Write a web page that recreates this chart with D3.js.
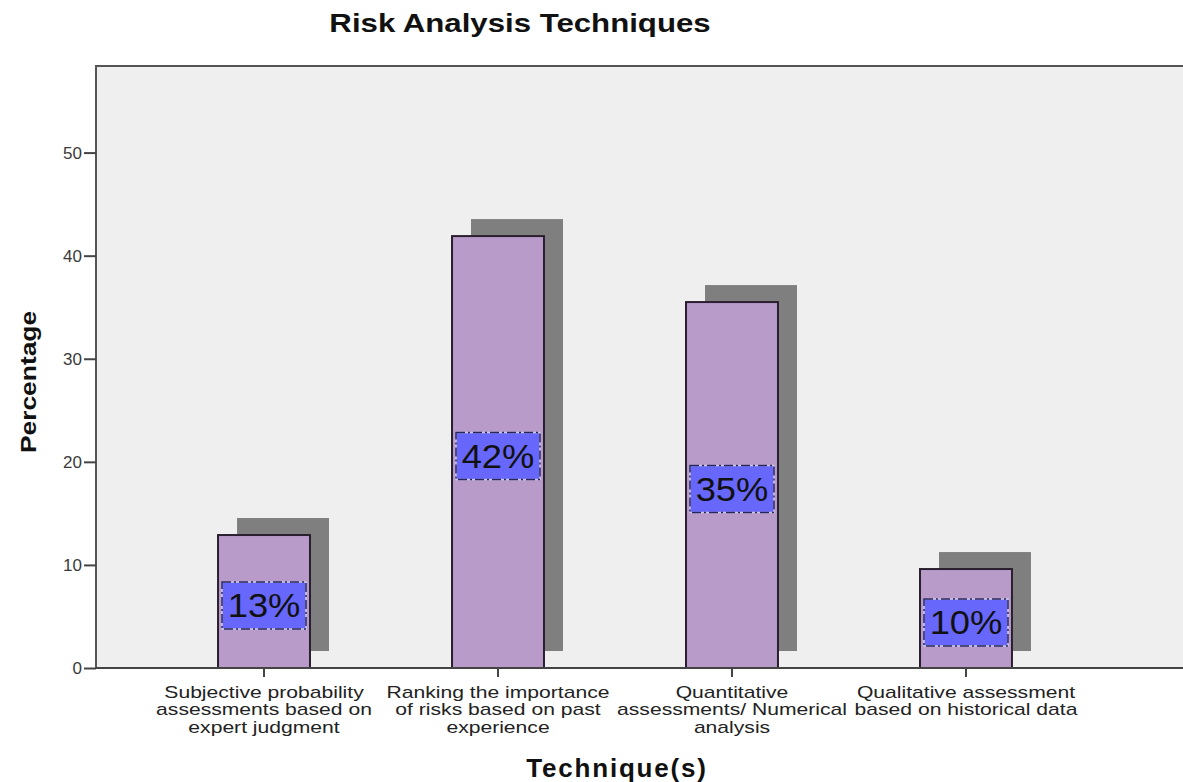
<!DOCTYPE html>
<meta charset="utf-8">
<style>
body { margin: 0; background: #fff; }
text { font-family: "Liberation Sans", Arial, sans-serif; }
.axis text { font-size: 17px; fill: #3a3a3a; }
.axis line, .axis path { stroke: #444; stroke-width: 2px; }
</style>
<body>
<svg width="1183" height="782"></svg>
<script src="https://cdnjs.cloudflare.com/ajax/libs/d3/7.8.5/d3.min.js"></script>
<script>
// data
var categories = [
  ["Subjective probability", "assessments based on", "expert judgment"],
  ["Ranking the importance", "of risks based on past", "experience"],
  ["Quantitative", "assessments/ Numerical", "analysis"],
  ["Qualitative assessment", "based on historical data"]
];
var values = [12.9, 41.9, 35.5, 9.6];
var labels = ["13%", "42%", "35%", "10%"];
var yTicks = [0, 10, 20, 30, 40, 50];

var svg = d3.select("svg"),
    plotL = 96, plotT = 66, plotB = 668, plotR = 1200;

var keys = categories.map(function(d, i) { return "c" + i; });

var x = d3.scaleBand().domain(keys).range([76, 1154]).padding(0.607);
var y = d3.scaleLinear().domain([0, 58.4]).range([plotB, plotT]);

// plot background
svg.append("rect")
    .attr("x", plotL).attr("y", plotT)
    .attr("width", plotR - plotL).attr("height", plotB - plotT)
    .attr("fill", "#efefef")
    .attr("stroke", "#555").attr("stroke-width", 2);

// shadows
svg.append("g").selectAll("rect")
    .data(values)
  .enter().append("rect")
    .attr("x", function(d, i) { return x(keys[i]) + 19; })
    .attr("y", function(d) { return y(d) - 17; })
    .attr("width", x.bandwidth())
    .attr("height", function(d) { return plotB - y(d); })
    .attr("fill", "#7f7f7f");

// bars
svg.append("g").selectAll("rect")
    .data(values)
  .enter().append("rect")
    .attr("x", function(d, i) { return x(keys[i]); })
    .attr("y", function(d) { return y(d); })
    .attr("width", x.bandwidth())
    .attr("height", function(d) { return plotB - y(d); })
    .attr("fill", "#b99bc9")
    .attr("stroke", "#2a1f2e").attr("stroke-width", 2);

// value labels
var lab = svg.append("g").selectAll("g")
    .data(values)
  .enter().append("g")
    .attr("transform", function(d, i) {
      return "translate(" + (x(keys[i]) + x.bandwidth() / 2) + "," + (y(d / 2) + 4) + ")";
    });
lab.append("rect")
    .attr("x", -42).attr("y", -23.5)
    .attr("width", 84).attr("height", 47)
    .attr("fill", "#6767fb")
    .attr("stroke", "#cfc6e6").attr("stroke-width", 1.5);
lab.append("rect")
    .attr("x", -42).attr("y", -23.5)
    .attr("width", 84).attr("height", 47)
    .attr("fill", "none")
    .attr("stroke", "#26265e").attr("stroke-width", 1.5)
    .attr("stroke-dasharray", "9,3,2,3");
lab.append("text")
    .attr("text-anchor", "middle")
    .attr("dy", "0.36em")
    .attr("transform", "scale(1.1,1)")
    .style("font-size", "33px")
    .attr("fill", "#111")
    .text(function(d, i) { return labels[i]; });

// y axis
var yAxis = svg.append("g")
    .attr("class", "axis")
    .attr("transform", "translate(" + plotL + ",0)")
    .call(d3.axisLeft(y).tickValues(yTicks).tickSize(12).tickPadding(2));
yAxis.select(".domain").remove();

// x axis
var xAxis = svg.append("g")
    .attr("class", "axis")
    .attr("transform", "translate(0," + plotB + ")")
    .call(d3.axisBottom(x).tickSize(9).tickFormat(""));
xAxis.select(".domain").remove();

svg.append("line")
    .attr("x1", plotL).attr("x2", plotR)
    .attr("y1", plotB).attr("y2", plotB)
    .attr("stroke", "#444").attr("stroke-width", 2);

// x tick labels
svg.append("g").selectAll("text")
    .data(categories)
  .enter().append("text")
    .attr("transform", function(d, i) {
      return "translate(" + (x(keys[i]) + x.bandwidth() / 2) + ",698) scale(1.32,1)";
    })
    .attr("text-anchor", "middle")
    .style("font-size", "16px")
    .attr("fill", "#222")
  .selectAll("tspan")
    .data(function(d) { return d; })
  .enter().append("tspan")
    .attr("x", 0)
    .attr("dy", function(d, i) { return i ? 17.5 : 0; })
    .text(function(d) { return d; });

// titles
svg.append("text")
    .attr("transform", "translate(520,32) scale(1.2,1)")
    .attr("text-anchor", "middle")
    .style("font-size", "26px").style("font-weight", "bold")
    .attr("fill", "#111")
    .text("Risk Analysis Techniques");

svg.append("text")
    .attr("transform", "translate(36,382) rotate(-90) scale(1.2,1)")
    .attr("text-anchor", "middle")
    .style("font-size", "22px").style("font-weight", "bold")
    .attr("fill", "#111")
    .text("Percentage");

svg.append("text")
    .attr("x", 617).attr("y", 777)
    .attr("text-anchor", "middle")
    .style("font-size", "26px").style("font-weight", "bold")
    .style("letter-spacing", "1.8px")
    .attr("fill", "#111")
    .text("Technique(s)");
</script>
